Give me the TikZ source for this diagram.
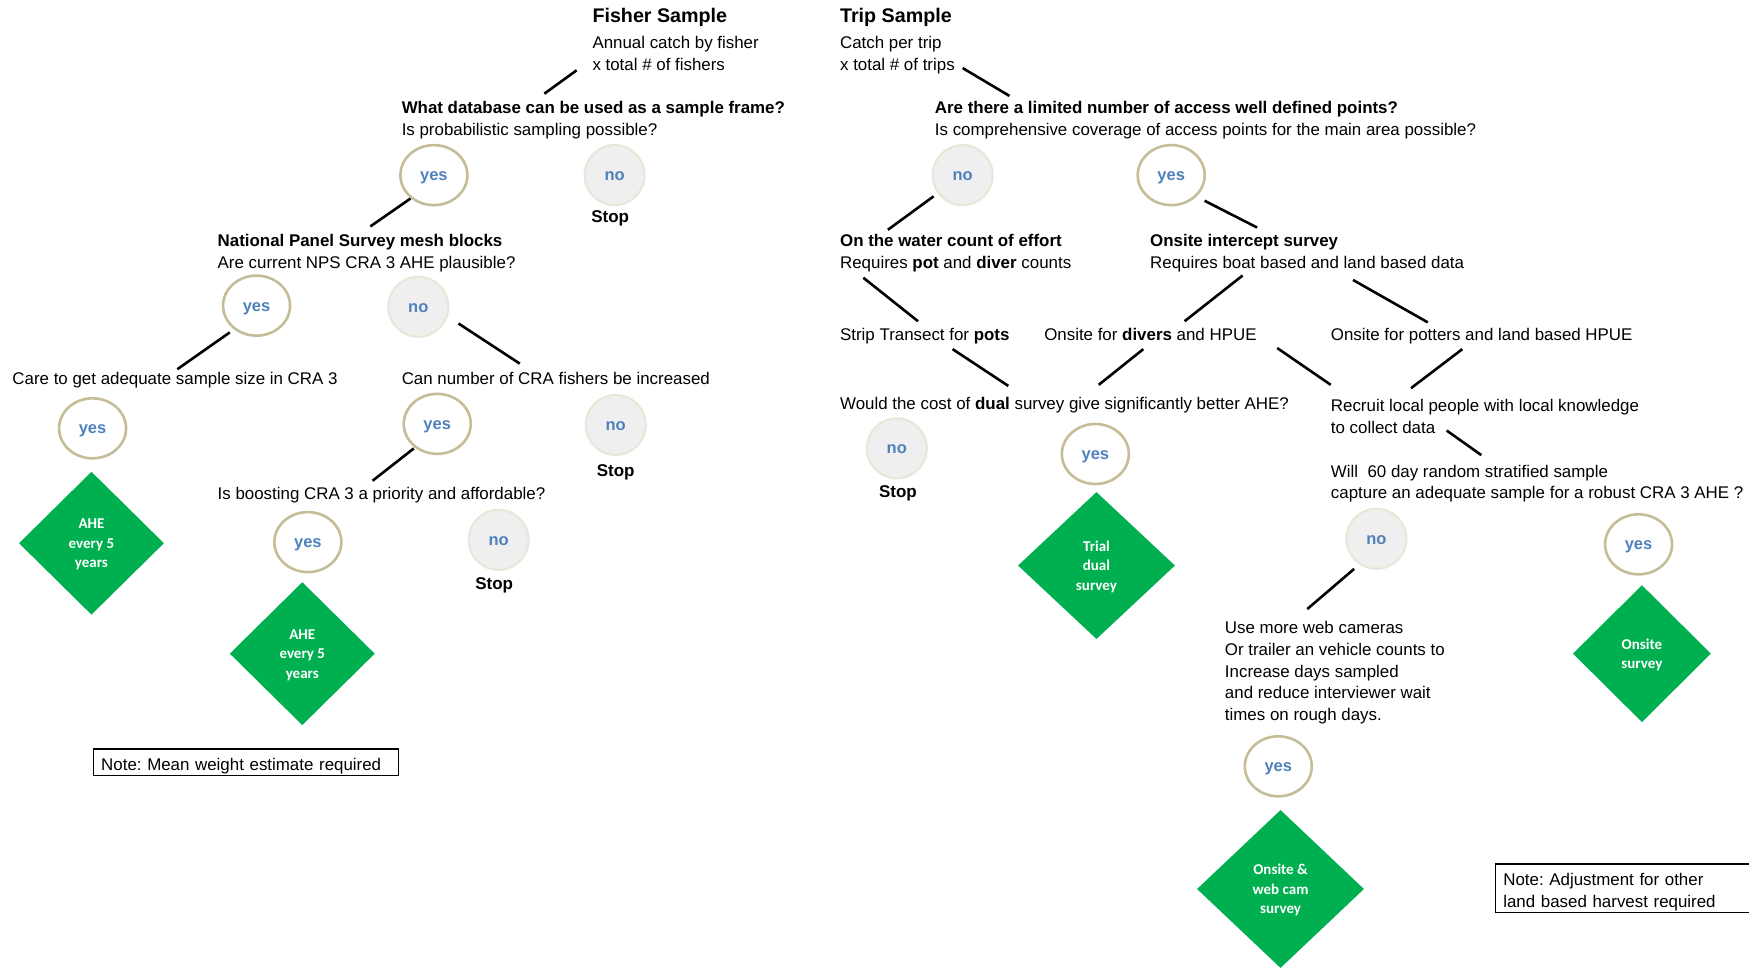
\documentclass[tikz,border=0pt]{standalone}
\usepackage{fontspec}
\setmainfont{Liberation Sans}
\newfontfamily\diafont{Carlito}
\usepackage{xcolor}
\usetikzlibrary{shapes.geometric,calc}
\frenchspacing

\definecolor{yesline}{HTML}{C4BD97}
\definecolor{nofill}{HTML}{EFEFEF}
\definecolor{noline}{HTML}{EAE7DA}
\definecolor{ansblue}{HTML}{4F81BD}
\definecolor{endgreen}{HTML}{00B050}

\tikzset{
	txt/.style={anchor=west,align=left,text depth=0pt,font=\fontsize{16.9}{21.9}\selectfont},
	ttl/.style={anchor=west,text depth=0pt,font=\fontsize{19.7}{24}\selectfont\bfseries},
	yesnode/.style={ellipse,draw=yesline,line width=2.6pt,fill=white,minimum width=67pt,minimum height=60pt,text height=11pt,text depth=0pt,text=ansblue,font=\fontsize{16.5}{19}\selectfont\bfseries},
	nonode/.style={circle,draw=noline,line width=2.2pt,fill=nofill,minimum size=60pt,text height=11pt,text depth=0pt,text=ansblue,font=\fontsize{16.5}{19}\selectfont\bfseries},
	stopnode/.style={text depth=0pt,font=\fontsize{17}{20}\selectfont\bfseries},
	endnode/.style={diamond,fill=endgreen,text=white,align=center,text depth=0pt,execute at begin node={\rule{0pt}{10.5pt}},font=\diafont\bfseries\fontsize{15}{19.5}\selectfont},
	link/.style={line width=2.6pt},
	notebox/.style={draw,line width=1.3pt,anchor=north west,align=left,inner xsep=8pt,inner ysep=4.5pt,text height=17.2pt,font=\fontsize{16.9}{21.9}\selectfont}
}

\begin{document}
\begin{tikzpicture}[x=1.1154pt,y=-1.1154pt]
			\tikzstyle{every node}+=[inner sep=0pt]
			\useasboundingbox (0,0) rectangle (1568,868);
			
			\draw (531,14) node[ttl] (fisher) {Fisher Sample};
			\draw (531,47.5) node[txt] (fishtxt) {Annual catch by fisher\\x total \# of fishers};
			\draw (360,106) node[txt] (dbq) {\textbf{What database can be used as a sample frame?}\\Is probabilistic sampling possible?};
			\draw (389,157) node[yesnode] (yesA) {yes};
			\draw (551,157) node[nonode] (noA) {no};
			\draw (547,194) node[stopnode] (stopA) {Stop};
			\draw (195,225) node[txt] (nps) {\textbf{National Panel Survey mesh blocks}\\Are current NPS CRA 3 AHE plausible?};
			\draw (230,274) node[yesnode] (yesB) {yes};
			\draw (375,275) node[nonode] (noB) {no};
			\draw (11,339) node[txt] (care) {Care to get adequate sample size in CRA 3};
			\draw (360,339) node[txt] (canq) {Can number of CRA fishers be increased};
			\draw (83,384) node[yesnode] (yesC) {yes};
			\draw (392,380) node[yesnode] (yesD) {yes};
			\draw (552,381) node[nonode] (noD) {no};
			\draw (552,422) node[stopnode] (stopD) {Stop};
			\draw (195,442) node[txt] (boost) {Is boosting CRA 3 a priority and affordable?};
			\draw (82,487) node[endnode,minimum width=145pt,minimum height=143pt] (aheA) {AHE\\every 5\\years};
			\draw (276,486) node[yesnode] (yesE) {yes};
			\draw (447,484) node[nonode] (noE) {no};
			\draw (443,523) node[stopnode] (stopE) {Stop};
			\draw (271,586) node[endnode,minimum width=145pt,minimum height=143pt] (aheB) {AHE\\every 5\\years};
			\draw (83,671) node[notebox,text width=289.6pt,text depth=0.5pt] (noteA) {Note: Mean weight estimate required};
			
			\draw[link] ($(fishtxt.west)+(-14,15.5)$) -- ($(dbq.west)+(128,-22)$);
			\draw[link] ($(yesA)+(-21,21)$) -- ($(nps.west)+(137,-22)$);
			\draw[link] ($(yesB)+(-24,24)$) -- ($(care.west)+(148,-8)$);
			\draw[link] ($(noB)+(36,15)$) -- ($(canq.west)+(106,-13)$);
			\draw[link] ($(yesD)+(-21,22)$) -- ($(boost.west)+(139,-11)$);
			
			\draw (753,14) node[ttl] (trip) {Trip Sample};
			\draw (753,47.5) node[txt] (triptxt) {Catch per trip\\x total \# of trips};
			\draw (838,106) node[txt] (accq) {\textbf{Are there a limited number of access well defined points?}\\Is comprehensive coverage of access points for the main area possible?};
			\draw (863,157) node[nonode] (noF) {no};
			\draw (1050,157) node[yesnode] (yesF) {yes};
			\draw (753,225) node[txt] (water) {\textbf{On the water count of effort}\\Requires \textbf{pot} and \textbf{diver} counts};
			\draw (1031,225) node[txt] (onsite) {\textbf{Onsite intercept survey}\\Requires boat based and land based data};
			\draw (753,300) node[txt] (strip) {Strip Transect for \textbf{pots}};
			\draw (936,300) node[txt] (divers) {Onsite for \textbf{divers} and HPUE};
			\draw (1193,300) node[txt] (potters) {Onsite for potters and land based HPUE};
			\draw (753,362) node[txt] (dual) {Would the cost of \textbf{dual} survey give significantly better AHE?};
			\draw (1193,373) node[txt] (recruit) {Recruit local people with local knowledge\\to collect data};
			\draw (804,402) node[nonode] (noG) {no};
			\draw (805,441) node[stopnode] (stopG) {Stop};
			\draw (982,407) node[yesnode] (yesG) {yes};
			\draw (983,507) node[endnode,minimum width=157pt,minimum height=147pt] (trial) {Trial\\dual\\survey};
			\draw (1193,432) node[txt] (will) {Will~ 60 day random stratified sample\\capture an adequate sample for a robust CRA 3 AHE ?};
			\draw (1234,483) node[nonode] (noH) {no};
			\draw (1469,488) node[yesnode] (yesH) {yes};
			\draw (1098,601.5) node[txt] (webtxt) {Use more web cameras\\Or trailer an vehicle counts to\\Increase days sampled\\and reduce interviewer wait\\times on rough days.};
			\draw (1472,586) node[endnode,minimum width=138pt,minimum height=137pt] (onsitesv) {Onsite\\survey};
			\draw (1146,687) node[yesnode] (yesI) {yes};
			\draw (1148,797) node[endnode,minimum width=167pt,minimum height=158pt] (webcam) {Onsite \&\\web cam\\survey};
			\draw (1340,774) node[notebox,text width=246pt,text depth=22.4pt] (noteB) {Note: Adjustment for other\\land based harvest required};
			
			\draw[link] ($(triptxt.west)+(110,13.5)$) -- ($(accq.west)+(67,-20)$);
			\draw[link] ($(noF)+(-26,19)$) -- ($(water.west)+(43,-19)$);
			\draw[link] ($(yesF)+(30,23)$) -- ($(onsite.west)+(96,-21)$);
			\draw[link] ($(water.west)+(21,24)$) -- ($(strip.west)+(70,-12)$);
			\draw[link] ($(onsite.west)+(83,22)$) -- ($(divers.west)+(126,-12)$);
			\draw[link] ($(onsite.west)+(182,26)$) -- ($(potters.west)+(87,-11)$);
			\draw[link] ($(strip.west)+(101,13)$) -- ($(dual.west)+(151,-16)$);
			\draw[link] ($(divers.west)+(89,13)$) -- ($(dual.west)+(232,-17)$);
			\draw[link] ($(divers.west)+(209,12)$) -- ($(recruit.west)+(0,-28)$);
			\draw[link] ($(potters.west)+(118,13)$) -- ($(recruit.west)+(72,-25)$);
			\draw[link] ($(recruit.west)+(104,13)$) -- ($(will.west)+(135,-24)$);
			\draw[link] ($(noH)+(-20,27)$) -- ($(webtxt.west)+(74,-55.5)$);
		\end{tikzpicture}
\end{document}
